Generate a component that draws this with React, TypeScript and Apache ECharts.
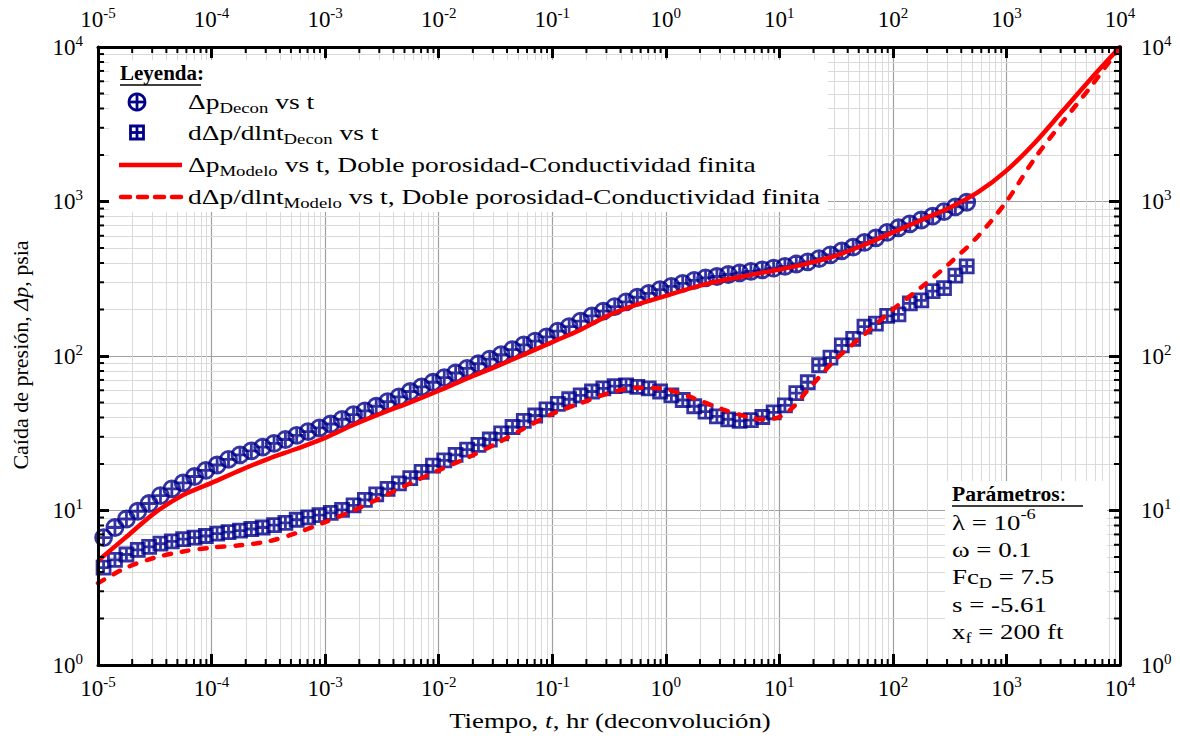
import React, { useEffect, useRef } from 'react';
import * as echarts from 'echarts';

// ---------- DATA ----------
const tDecon = [
  1.12e-5, 1.41e-5, 1.78e-5, 2.24e-5, 2.82e-5, 3.55e-5, 4.47e-5, 5.62e-5, 7.08e-5, 8.91e-5,
  1.12e-4, 1.41e-4, 1.78e-4, 2.24e-4, 2.82e-4, 3.55e-4, 4.47e-4, 5.62e-4, 7.08e-4, 8.91e-4,
  1.12e-3, 1.41e-3, 1.78e-3, 2.24e-3, 2.82e-3, 3.55e-3, 4.47e-3, 5.62e-3, 7.08e-3, 8.91e-3,
  1.12e-2, 1.41e-2, 1.78e-2, 2.24e-2, 2.82e-2, 3.55e-2, 4.47e-2, 5.62e-2, 7.08e-2, 8.91e-2,
  0.112, 0.141, 0.178, 0.224, 0.282, 0.355, 0.447, 0.562, 0.708, 0.891,
  1.12, 1.41, 1.78, 2.24, 2.82, 3.55, 4.47, 5.62, 7.08, 8.91,
  11.2, 14.1, 17.8, 22.4, 28.2, 35.5, 44.7, 56.2, 70.8, 89.1,
  112, 141, 178, 224, 282, 355, 447,
];
const dpDecon = [
  6.68, 7.76, 8.81, 9.89, 11.1, 12.5, 13.8, 15.1, 16.6, 18.2,
  19.7, 21.4, 22.9, 24.3, 25.7, 27.2, 28.8, 30.6, 32.4, 34.3,
  36.3, 38.9, 41.7, 44.2, 47.3, 50.7, 54.3, 58.9, 63.1, 67.6,
  72.4, 77.6, 83.2, 89.1, 95.5, 102, 110, 118, 125, 133,
  145, 155, 168, 182, 195, 209, 224, 240, 254, 269,
  282, 295, 309, 320, 327, 337, 345, 353, 361, 370,
  380, 394, 407, 427, 452, 479, 507, 543, 582, 631,
  676, 716, 759, 804, 861, 923, 989,
];
const derDecon = [
  4.27, 4.79, 5.19, 5.56, 5.82, 6.10, 6.31, 6.53, 6.68, 6.84,
  7.08, 7.24, 7.41, 7.59, 7.76, 8.04, 8.32, 8.71, 9.02, 9.33,
  9.66, 10.1, 10.8, 11.7, 12.7, 13.8, 15.0, 16.2, 17.8, 19.5,
  21.1, 22.9, 24.8, 26.6, 28.8, 31.6, 34.7, 38.0, 41.2, 45.2,
  49.0, 52.5, 55.6, 58.9, 61.7, 63.8, 64.6, 63.1, 61.7, 58.9,
  55.6, 51.9, 47.3, 43.7, 40.7, 38.9, 38.0, 38.5, 40.3, 43.2,
  47.9, 57.5, 67.6, 87.1, 97.7, 117, 129, 155, 162, 182,
  186, 219, 229, 263, 275, 331, 380,
];
const tModel = [
  1e-5, 1.78e-5, 3.16e-5, 5.62e-5, 1e-4, 1.78e-4, 3.16e-4, 5.62e-4, 1e-3, 1.78e-3,
  3.16e-3, 5.62e-3, 1e-2, 1.78e-2, 3.16e-2, 5.62e-2, 0.1, 0.178, 0.316, 0.562,
  1, 1.78, 3.16, 5.62, 10, 17.8, 31.6, 56.2, 100, 178,
  316, 562, 1000, 1778, 3162, 5623, 10000,
];
const dpModel = [
  4.73, 6.76, 9.66, 12.6, 15.1, 18.2, 21.6, 25.1, 29.5, 35.9,
  42.7, 50.1, 59.6, 71.6, 85.1, 102, 123, 148, 184, 216,
  245, 279, 309, 335, 363, 398, 447, 525, 631, 759,
  912, 1148, 1585, 2399, 3890, 6310, 10000,
];
const tModelDer = [
  1e-5, 1.78e-5, 3.16e-5, 5.62e-5, 1e-4, 1.78e-4, 3.16e-4, 5.62e-4, 1e-3, 1.78e-3,
  3.16e-3, 5.62e-3, 1e-2, 1.78e-2, 3.16e-2, 5.62e-2, 0.1, 0.178, 0.316, 0.562,
  1, 1.78, 3.16, 5.62, 7.5, 10, 13.3, 17.8, 31.6, 56.2,
  100, 178, 316, 562, 1000, 1778, 3162, 5623, 10000,
];
const derModel = [
  3.39, 4.27, 4.95, 5.43, 5.75, 5.96, 6.31, 7.16, 8.41, 10.0,
  12.2, 15.0, 18.2, 21.9, 26.9, 33.9, 42.2, 49.5, 57.5, 62.4,
  61.0, 53.1, 45.2, 39.8, 38.9, 40.3, 46.8, 60.3, 95.5, 138,
  200, 279, 398, 596, 1000, 1905, 3311, 5623, 10000,
];
const xTickExponents = ['-5', '-4', '-3', '-2', '-1', '0', '1', '2', '3', '4'];
const yTickExponents = ['0', '1', '2', '3', '4'];

// ---------- STYLE ----------
const SERIF = "'Liberation Serif', 'Times New Roman', Times, serif";
const NAVY = '#00008b';
const RED = '#ff0000';
const X_MIN = 1e-5, X_MAX = 1e4, Y_MIN = 1, Y_MAX = 1e4;

const CIRCLE_CROSS = 'path://M0,10A10,10,0,1,1,20,10A10,10,0,1,1,0,10ZM10,0L10,20M0,10L20,10';
const SQUARE_CROSS = 'path://M0,0L20,0L20,20L0,20ZM10,0L10,20M0,10L20,10';

function minorValues(lo: number, hi: number) {
  const out: number[] = [];
  for (let e = lo; e < hi; e++) for (let m = 2; m <= 9; m++) out.push(m * Math.pow(10, e));
  return out;
}

function expLabel(list: string[]) {
  return (v: number) => {
    const e = String(Math.round(Math.log10(v)));
    const lab = list.indexOf(e) >= 0 ? e : e;
    return `{b|10}{s|${lab}}`;
  };
}

const labelRich = {
  b: { fontFamily: SERIF, fontSize: 23, color: '#000', lineHeight: 28 },
  s: { fontFamily: SERIF, fontSize: 15, color: '#000', lineHeight: 17, verticalAlign: 'top' },
};

const tRich = {
  n: { fontFamily: SERIF, fontSize: 22, fill: '#000', lineHeight: 30 },
  b: { fontFamily: SERIF, fontSize: 21, fontWeight: 'bold', fill: '#000', lineHeight: 30 },
  i: { fontFamily: SERIF, fontSize: 22, fontStyle: 'italic', fill: '#000', lineHeight: 30 },
  sub: { fontFamily: SERIF, fontSize: 15, fill: '#000', lineHeight: 14, verticalAlign: 'bottom' },
  sup: { fontFamily: SERIF, fontSize: 15, fill: '#000', lineHeight: 18, verticalAlign: 'top' },
};

function txt(x: number, y: number, text: string, sx = 1, align = 'left') {
  return {
    type: 'text', z: 12, silent: true, x, y, scaleX: sx,
    style: { x: 0, y: 0, text, rich: tRich, fontFamily: SERIF, fontSize: 22, fill: '#000', align, verticalAlign: 'middle' },
  };
}
function ln(x1: number, y1: number, x2: number, y2: number, style: any) {
  return { type: 'line', z: 12, silent: true, shape: { x1, y1, x2, y2 }, style };
}

export default function App() {
  const ref = useRef<HTMLDivElement>(null);
  useEffect(() => {
    const chart = echarts.init(ref.current!, null, { renderer: 'svg' });

    const xBase: any = { type: 'log', logBase: 10, min: X_MIN, max: X_MAX, splitNumber: 10 };
    const yBase: any = { type: 'log', logBase: 10, min: Y_MIN, max: Y_MAX, splitNumber: 10 };
    const hidden = { axisLine: { show: false }, axisTick: { show: false }, axisLabel: { show: false } };
    const shown = (margin: number, fmt: any) => ({
      z: 8,
      axisLine: { show: true, onZero: false, lineStyle: { color: '#000', width: 3 } },
      axisTick: { show: true, inside: true, length: 11, lineStyle: { color: '#000', width: 3 } },
      axisLabel: { show: true, margin, formatter: fmt, rich: labelRich },
      splitLine: { show: false },
    });

    const minorX = minorValues(-5, 4).map((v) => [v, 10]);
    const minorY = minorValues(0, 4).map((v) => [1, v]);

    const option: any = {
      animation: false,
      backgroundColor: '#fff',
      grid: { left: 98, right: 60, top: 47, bottom: 73, containLabel: false },
      xAxis: [
        { ...xBase, position: 'bottom', z: 0, ...hidden, splitLine: { show: true, lineStyle: { color: '#a0a0a0', width: 1.2 } } },
        { ...xBase, position: 'bottom', ...shown(9, expLabel(xTickExponents)) },
        { ...xBase, position: 'top', ...shown(14, expLabel(xTickExponents)) },
      ],
      yAxis: [
        { ...yBase, position: 'left', z: 0, ...hidden, splitLine: { show: true, lineStyle: { color: '#a0a0a0', width: 1.2 } } },
        { ...yBase, position: 'left', ...shown(15, expLabel(yTickExponents)) },
        { ...yBase, position: 'right', ...shown(21, expLabel(yTickExponents)) },
      ],
      series: [
        {
          type: 'custom', name: 'minorGridX', silent: true, z: 0, xAxisIndex: 0, yAxisIndex: 0,
          data: minorX,
          renderItem: (params: any, api: any) => {
            const x = Math.round(api.coord([api.value(0), 10])[0]) + 0.5;
            const cs = params.coordSys;
            return { type: 'line', shape: { x1: x, y1: cs.y, x2: x, y2: cs.y + cs.height }, style: { stroke: '#dadada', lineWidth: 1 } };
          },
        },
        {
          type: 'custom', name: 'minorGridY', silent: true, z: 0, xAxisIndex: 0, yAxisIndex: 0,
          data: minorY,
          renderItem: (params: any, api: any) => {
            const y = Math.round(api.coord([1, api.value(1)])[1]) + 0.5;
            const cs = params.coordSys;
            return { type: 'line', shape: { x1: cs.x, y1: y, x2: cs.x + cs.width, y2: y }, style: { stroke: '#dadada', lineWidth: 1 } };
          },
        },
        {
          type: 'custom', name: 'minorTickX', silent: true, z: 9, xAxisIndex: 0, yAxisIndex: 0,
          data: minorX,
          renderItem: (params: any, api: any) => {
            const x = api.coord([api.value(0), 10])[0];
            const cs = params.coordSys;
            const st = { stroke: '#000', lineWidth: 2 };
            return {
              type: 'group',
              children: [
                { type: 'line', shape: { x1: x, y1: cs.y + cs.height, x2: x, y2: cs.y + cs.height - 6 }, style: st },
                { type: 'line', shape: { x1: x, y1: cs.y, x2: x, y2: cs.y + 6 }, style: st },
              ],
            };
          },
        },
        {
          type: 'custom', name: 'minorTickY', silent: true, z: 9, xAxisIndex: 0, yAxisIndex: 0,
          data: minorY,
          renderItem: (params: any, api: any) => {
            const y = api.coord([1, api.value(1)])[1];
            const cs = params.coordSys;
            const st = { stroke: '#000', lineWidth: 2 };
            return {
              type: 'group',
              children: [
                { type: 'line', shape: { x1: cs.x, y1: y, x2: cs.x + 6, y2: y }, style: st },
                { type: 'line', shape: { x1: cs.x + cs.width, y1: y, x2: cs.x + cs.width - 6, y2: y }, style: st },
              ],
            };
          },
        },
        {
          type: 'scatter', name: 'dpDecon', z: 3, silent: true,
          symbol: CIRCLE_CROSS, symbolSize: 16, symbolKeepAspect: true,
          itemStyle: { color: 'rgba(0,0,0,0)', borderColor: NAVY, borderWidth: 2.8 },
          data: tDecon.map((t, i) => [t, dpDecon[i]]),
        },
        {
          type: 'scatter', name: 'derDecon', z: 3, silent: true,
          symbol: SQUARE_CROSS, symbolSize: 13, symbolKeepAspect: true,
          itemStyle: { color: 'rgba(0,0,0,0)', borderColor: NAVY, borderWidth: 2.8 },
          data: tDecon.map((t, i) => [t, derDecon[i]]),
        },
        {
          type: 'line', name: 'dpModel', z: 4, silent: true, smooth: 0.3, showSymbol: false, symbol: 'none',
          lineStyle: { color: RED, width: 4.5 },
          data: tModel.map((t, i) => [t, dpModel[i]]),
        },
        {
          type: 'line', name: 'derModel', z: 4, silent: true, smooth: 0.3, showSymbol: false, symbol: 'none',
          lineStyle: { color: RED, width: 4.5, type: [7, 11], cap: 'round' },
          data: tModelDer.map((t, i) => [t, derModel[i]]),
        },
      ],
      graphic: [
        // legend box
        { type: 'rect', z: 2, silent: true, shape: { x: 109, y: 60, width: 719, height: 152 }, style: { fill: '#fff' } },
        txt(120, 73, '{b|Leyenda}{b|:}'),
        ln(120, 85, 201, 85, { stroke: '#000', lineWidth: 1.5 }),
        { type: 'circle', z: 12, silent: true, shape: { cx: 137, cy: 102, r: 8 }, style: { fill: 'none', stroke: NAVY, lineWidth: 2.8 } },
        ln(137, 94, 137, 110, { stroke: NAVY, lineWidth: 2.8 }),
        ln(129, 102, 145, 102, { stroke: NAVY, lineWidth: 2.8 }),
        { type: 'rect', z: 12, silent: true, shape: { x: 130.5, y: 126, width: 13, height: 13 }, style: { fill: 'none', stroke: NAVY, lineWidth: 2.8 } },
        ln(137, 126, 137, 139, { stroke: NAVY, lineWidth: 2.8 }),
        ln(130.5, 132.5, 143.5, 132.5, { stroke: NAVY, lineWidth: 2.8 }),
        ln(119, 165, 182, 165, { stroke: RED, lineWidth: 4.5 }),
        ln(121, 197, 182, 197, { stroke: RED, lineWidth: 4.5, lineDash: [9, 8], lineCap: 'round' }),
        txt(188, 101, '{n|Δp}{sub|Decon}{n| vs t}', 1.25),
        txt(188, 132, '{n|dΔp/dlnt}{sub|Decon}{n| vs t}', 1.25),
        txt(188, 164, '{n|Δp}{sub|Modelo}{n| vs t, Doble porosidad-Conductividad finita}', 1.25),
        txt(188, 196, '{n|dΔp/dlnt}{sub|Modelo}{n| vs t, Doble porosidad-Conductividad finita}', 1.25),
        // parameters box
        { type: 'rect', z: 2, silent: true, shape: { x: 945, y: 481, width: 162, height: 182 }, style: { fill: '#fff' } },
        txt(952, 494, '{b|Parámetros}{n|:}', 1.03),
        ln(952, 506, 1083, 506, { stroke: '#000', lineWidth: 1.5 }),
        txt(952, 522, '{n|λ = 10}{sup|-6}', 1.22),
        txt(952, 549, '{n|ω = 0.1}', 1.22),
        txt(952, 576, '{n|Fc}{sub|D}{n| = 7.5}', 1.22),
        txt(952, 604, '{n|s = -5.61}', 1.22),
        txt(952, 631, '{n|x}{sub|f}{n| = 200 ft}', 1.22),
        // axis titles
        txt(610, 720, '{n|Tiempo, }{i|t}{n|, hr (deconvolución)}', 1.22, 'center'),
        {
          type: 'text', z: 12, silent: true, x: 20, y: 355, rotation: Math.PI / 2,
          style: { x: 0, y: 0, text: '{n|Caída de presión, }{i|Δp}{n|, psia}', rich: tRich, align: 'center', verticalAlign: 'middle', fill: '#000' },
        },
      ],
    };
    chart.setOption(option);
    return () => chart.dispose();
  }, []);
  return <div ref={ref} style={{ position: 'fixed', left: 0, top: 0, width: 1180, height: 738, background: '#fff' }} />;
}
